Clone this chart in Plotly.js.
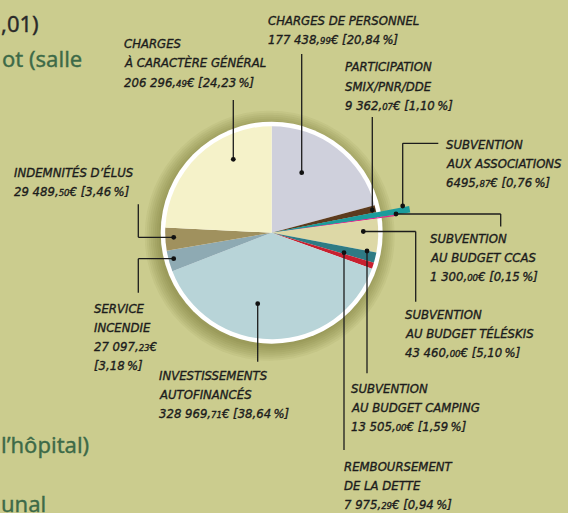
<!DOCTYPE html>
<html>
<head>
<meta charset="utf-8">
<script src="https://cdn.plot.ly/plotly-3.0.1.min.js"></script>
<style>
html,body{margin:0;padding:0;background:#cbcc8e;}
#chart{width:568px;height:513px;}
</style>
</head>
<body>
<div id="chart"></div>
<script>
// ---- data (clockwise from 12 o'clock) ----
const categories = ["Charges de personnel","Participation SMIX/PNR/DDE","Subvention aux associations","Subvention au budget CCAS","Subvention au budget téléskis","Subvention au budget camping","Remboursement de la dette","Investissements autofinancés","Service incendie","Indemnités d'élus","Charges à caractère général"];
const values = [177438.99, 9362.07, 6495.87, 1300.00, 43460.00, 13505.00, 7975.29, 328969.71, 27097.23, 29489.50, 206296.49];
const nameLines = [["CHARGES DE PERSONNEL"],["PARTICIPATION","SMIX/PNR/DDE"],["SUBVENTION","AUX ASSOCIATIONS"],["SUBVENTION","AU BUDGET CCAS"],["SUBVENTION","AU BUDGET TÉLÉSKIS"],["SUBVENTION","AU BUDGET CAMPING"],["REMBOURSEMENT","DE LA DETTE"],["INVESTISSEMENTS","AUTOFINANCÉS"],["SERVICE","INCENDIE"],["INDEMNITÉS D’ÉLUS"],["CHARGES","À CARACTÈRE GÉNÉRAL"]];
const valueLabels = ["177 438,99","9 362,07","6495,87","1 300,00","43 460,00","13 505,00","7 975,29","328 969,71","27 097,23","29 489,50","206 296,49"];
const percentLabels = ["20,84","1,10","0,76","0,15","5,10","1,59","0,94","38,64","3,18","3,46","24,23"];
const backgroundTexts = [",01)","ot (salle","l’hôpital)","unal"];

// ---- styles / layout positions ----
const colors = ["#cfd0dc","#5c3b1e","#1b9c9c","#e0228c","#ddd8a6","#2e7b84","#c8202f","#b8d4d8","#8eaab3","#a0915e","#f5f2c9"];
const W = 568, H = 513;
const px = x => x / W, py = y => 1 - y / H;
const cx = 271.7, cy = 232.7, R = 106.5;
const dom = r => ({x:[px(cx - r), px(cx + r)], y:[py(cy + r), py(cy - r)]});

// label layout: [xLeft, yFirstLineCenter, splitValuePercent]
const labelPos = [[267.3,20,false],[344,67,false],[445,144.2,false],[429,238.3,false],[404,314.2,false],[350,388,false],[343.3,466,false],[158.3,375.3,false],[93.3,308,true],[13.3,172.5,false],[122.7,43.5,false]];
const leaders = [
  [[301.7,172.7],[301.7,54]],
  [[372.3,210],[372.3,117]],
  [[402.7,206],[402.7,143.3],[438.3,143.3]],
  [[396,214],[500.7,214],[500.7,226.5]],
  [[363.3,231.5],[415.7,231.5],[415.7,301.7]],
  [[367,251],[367,373.3]],
  [[344,252.7],[344,450]],
  [[257.7,303.7],[257.7,361.7]],
  [[173.7,258.7],[138.3,258.7],[138.3,292.7]],
  [[173.7,237.3],[138.3,237.3],[138.3,204.3]],
  [[233.3,159.3],[233.3,100]]
];
const lineGap = 19.3;

function pieTrace(r, colorFn){
  return {type:'pie', values:values, labels:categories, sort:false, direction:'clockwise', rotation:0,
    textinfo:'none', hoverinfo:'skip', showlegend:false, domain:dom(r),
    marker:{colors:colors.map(colorFn), line:{width:0}}};
}
const tr = 'rgba(0,0,0,0)';
const traces = [
  pieTrace(140, (c,i)=> i===2 ? c : tr),
  pieTrace(125, (c,i)=> i===3 ? c : tr),
  pieTrace(R, c=>c)
];

const shapes = [];
// shadow halo
for (let k = 0; k < 8; k++) {
  const r = 111 + k * 2;
  shapes.push({type:'circle', xref:'paper', yref:'paper', layer:'below',
    x0:px(cx - 2 - r), x1:px(cx - 2 + r), y0:py(cy + 3 + r), y1:py(cy + 3 - r),
    fillcolor:'rgba(85,90,25,0.06)', line:{width:0}});
}
shapes.push({type:'circle', xref:'paper', yref:'paper', layer:'below',
  x0:px(cx - 111), x1:px(cx + 111), y0:py(cy + 111), y1:py(cy - 111),
  fillcolor:'#ffffff', line:{width:0}});
leaders.forEach(pts => {
  for (let i = 0; i < pts.length - 1; i++) {
    shapes.push({type:'line', xref:'paper', yref:'paper', layer:'above',
      x0:px(pts[i][0]), y0:py(pts[i][1]), x1:px(pts[i+1][0]), y1:py(pts[i+1][1]),
      line:{color:'#1c1c1c', width:1.3}});
  }
  const [dx, dy] = pts[0], d = 2.4;
  shapes.push({type:'circle', xref:'paper', yref:'paper', layer:'above',
    x0:px(dx - d), x1:px(dx + d), y0:py(dy + d), y1:py(dy - d),
    fillcolor:'#111', line:{width:0}});
});

const labelFont = {family:'"DejaVu Sans Condensed", sans-serif', size:13, color:'#1c1c1c', style:'italic'};
function valueText(v){
  const [a, b] = v.split(',');
  return a + ',<span style="font-size:9.5px">' + b + '</span>€';
}
const annotations = [];
categories.forEach((c, i) => {
  const [x, y, split] = labelPos[i];
  const vt = valueText(valueLabels[i]), pt = '[' + percentLabels[i] + '\u2009%]';
  const lines = nameLines[i].concat(split ? [vt, pt] : [vt + ' ' + pt]);
  lines.forEach((t, j) => {
    annotations.push({xref:'paper', yref:'paper', x:px(x), y:py(y + j * lineGap), xanchor:'left', yanchor:'middle',
      text:t, showarrow:false, font:labelFont, borderpad:0});
  });
});
const bgPos = [[0,23,'#2a2a2a'],[1,58,'#3d6a48'],[0,444,'#3d6a48'],[0,503,'#3d6a48']];
backgroundTexts.forEach((t, i) => {
  const [x, y, col] = bgPos[i];
  annotations.push({xref:'paper', yref:'paper', x:px(x), y:py(y), xanchor:'left', yanchor:'middle', text:t,
    showarrow:false, borderpad:0, font:{family:'"Noto Sans", sans-serif', size:22, color:col}});
});

Plotly.newPlot('chart', traces, {
  width:W, height:H, margin:{l:0, r:0, t:0, b:0},
  paper_bgcolor:'#cbcc8e', plot_bgcolor:'#cbcc8e', showlegend:false,
  shapes:shapes, annotations:annotations
}, {staticPlot:true, displayModeBar:false}).then(gd => {
  // slightly heavier text strokes, like the reference typeface
  gd.querySelectorAll('text.annotation-text').forEach(t => {
    const f = t.style.fill || t.getAttribute('fill');
    if (f) { t.style.stroke = f; t.style.strokeWidth = '0.35px'; }
  });
});
</script>
</body>
</html>
